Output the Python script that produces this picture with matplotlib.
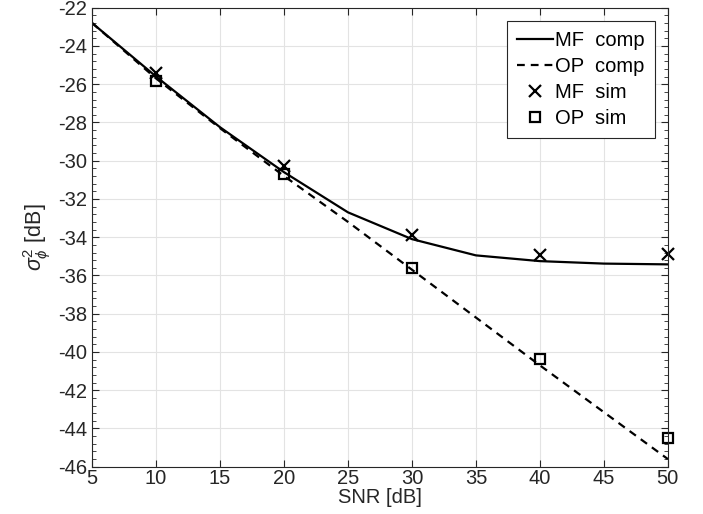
import matplotlib.pyplot as plt
from matplotlib.ticker import MultipleLocator

plt.rcParams['font.family'] = ['Liberation Sans', 'DejaVu Sans']
plt.rcParams['mathtext.fontset'] = 'custom'
plt.rcParams['mathtext.it'] = 'Liberation Sans:italic'
plt.rcParams['mathtext.rm'] = 'Liberation Sans'
plt.rcParams['axes.unicode_minus'] = False

# computed curves
snr = [5, 10, 15, 20, 25, 30, 35, 40, 45, 50]
mf_comp = [-22.8, -25.6, -28.25, -30.6, -32.7, -34.1, -34.95, -35.25, -35.38, -35.42]
op_comp = [-22.8, -25.7, -28.3, -30.8, -33.2, -35.7, -38.2, -40.7, -43.15, -45.6]

# simulated points
snr_sim = [10, 20, 30, 40, 50]
mf_sim = [-25.4, -30.3, -33.9, -34.95, -34.9]
op_sim = [-25.85, -30.7, -35.6, -40.35, -44.5]

txt = '#262626'
fs = 14.5

fig = plt.figure(figsize=(7.03, 5.14), dpi=100)
ax = fig.add_axes([0.131, 0.092, 0.819, 0.893])

ax.plot(snr, mf_comp, color='black', lw=1.6, label='MF  comp')
ax.plot(snr, op_comp, color='black', lw=1.6, ls=(0, (3.5, 2.7)), label='OP  comp')
ax.plot(snr_sim, mf_sim, ls='none', marker='x', ms=8, mew=1.6, color='black',
        clip_on=False, label='MF  sim')
ax.plot(snr_sim, op_sim, ls='none', marker='s', ms=7, mew=1.6, mfc='none', mec='black',
        clip_on=False, label='OP  sim')

ax.set_xlim(5, 50)
ax.set_ylim(-46, -22)
ax.set_xticks(range(5, 51, 5))
ax.set_yticks(range(-46, -21, 2))
ax.yaxis.set_minor_locator(MultipleLocator(0.4))
ax.tick_params(which='both', direction='in', top=True, right=True, labelsize=fs, colors=txt)
ax.tick_params(which='major', length=5)
ax.tick_params(which='minor', length=3)
ax.tick_params(axis='x', which='minor', top=False, bottom=False)
ax.tick_params(axis='x', pad=2)
ax.grid(True, which='major', color='#e3e3e3', lw=0.8)
ax.set_axisbelow(True)
for s in ax.spines.values():
    s.set_color(txt)
    s.set_linewidth(0.8)

ax.set_xlabel('SNR [dB]', fontsize=fs, color=txt, labelpad=0)
ax.set_ylabel(r'$\sigma^2_\phi$ [dB]', fontsize=fs + 1, color=txt, labelpad=4)

leg = ax.legend(loc='upper right', fontsize=fs, frameon=True, fancybox=False,
                edgecolor=txt, framealpha=1, handlelength=1.8,
                borderaxespad=0.65, borderpad=0.5, handletextpad=0.1, labelspacing=0.35)
leg.get_frame().set_linewidth(0.8)

fig.savefig('out.png', dpi=100)
